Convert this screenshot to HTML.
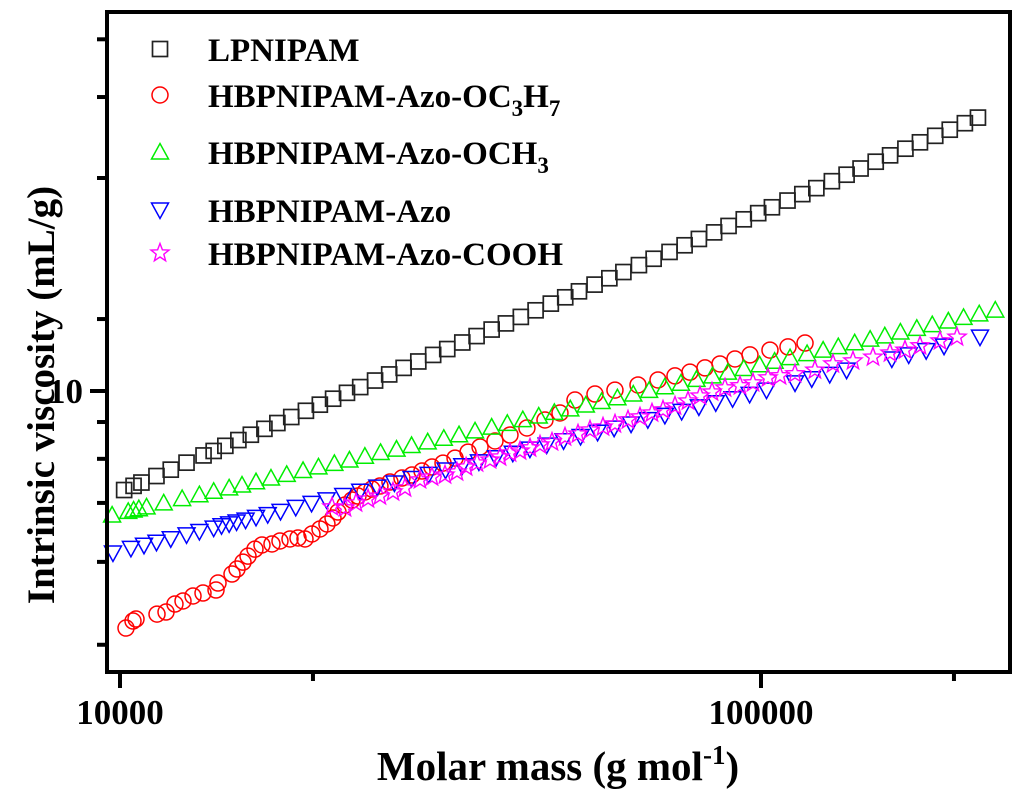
<!DOCTYPE html>
<html><head><meta charset="utf-8"><style>
html,body{margin:0;padding:0;background:#fff;}
svg{display:block;font-family:"Liberation Serif",serif;font-weight:bold;}
</style></head><body>
<svg id="chart" width="1024" height="799" viewBox="0 0 1024 799">
<g id="marks"></g>
<g id="axes"></g>
<g id="legend"></g>
</svg>
<script>
const lpM=[10150,10500,10800,11400,12000,12700,13500,14000,14600,15300,16000,16800,17600,18500,19500,20500,21500,22600,23700,25000,26300,27700,29200,30800,32400,34200,36000,38000,40000,42200,44500,47000,49500,52000,55000,58000,61000,64500,68000,72000,76000,80000,84500,89000,94000,99000,104000,110000,116000,122000,129000,136000,143000,151000,159000,168000,177000,187000,197000,208000,218000];
const lpV=[7.22,7.32,7.40,7.56,7.72,7.90,8.09,8.21,8.35,8.51,8.66,8.83,9.00,9.18,9.37,9.56,9.75,9.94,10.13,10.35,10.56,10.79,11.02,11.26,11.48,11.73,11.98,12.24,12.49,12.76,13.04,13.33,13.61,13.88,14.19,14.49,14.79,15.13,15.45,15.80,16.15,16.49,16.85,17.21,17.59,17.95,18.30,18.71,19.11,19.49,19.94,20.37,20.79,21.26,21.71,22.19,22.66,23.15,23.62,24.13,24.58];
const c3M=[10218,10478,10592,11422,11797,12183,12540,12999,13474,14119,14221,14953,15224,15556,15838,16240,16653,17262,17765,18416,18953,19436,19930,20511,21032,21493,21882,22439,23009,23510,24107,24720,25442,26372,27535,28543,29588,30669,31911,33318,34913,36449,38459,40589,43139,46026,48573,51263,55081,59180,64284,69077,73418,77482,81770,86298,91077,96121,103278,110180,117138];
const c3V=[4.585,4.692,4.723,4.801,4.833,4.962,5.012,5.095,5.145,5.196,5.317,5.477,5.568,5.695,5.809,5.944,6.026,6.046,6.106,6.146,6.166,6.146,6.248,6.352,6.457,6.586,6.716,6.873,6.988,7.079,7.174,7.244,7.316,7.413,7.511,7.586,7.686,7.788,7.889,8.020,8.180,8.318,8.484,8.652,8.855,9.091,9.302,9.708,9.901,10.03,10.20,10.37,10.51,10.64,10.79,10.93,11.11,11.26,11.44,11.56,11.71];
const c1M=[9720,10300,10500,10700,11000,11700,12500,13300,14000,14800,15500,16300,17200,18200,19300,20400,21600,22800,24100,25500,27000,28500,30200,32000,33800,35800,38000,40200,42500,45000,47600,50400,53300,56400,59700,63200,66900,70800,75000,79300,84000,88800,94000,99500,105000,111000,118000,125000,132000,140000,148000,156000,165000,175000,185000,196000,207000,219000,232000];
const c1V=[6.65,6.73,6.76,6.79,6.83,6.92,7.02,7.11,7.19,7.27,7.34,7.42,7.51,7.60,7.70,7.79,7.88,7.97,8.07,8.17,8.26,8.36,8.46,8.56,8.66,8.77,8.88,8.99,9.10,9.21,9.32,9.43,9.55,9.66,9.78,9.90,10.02,10.14,10.26,10.39,10.51,10.64,10.77,10.90,11.03,11.16,11.31,11.44,11.57,11.72,11.86,11.99,12.14,12.29,12.44,12.59,12.74,12.89,13.05];
const azM=[9750,10400,10900,11400,12000,12700,13300,14000,14400,14800,15200,15700,16300,17000,17800,18800,19900,21000,22300,23700,25200,26800,28500,30300,32200,34200,36300,38600,41000,43600,46300,49200,52300,55600,59000,62700,66600,70800,75200,80000,85000,90300,96000,102000,113000,120000,128000,136000,160000,170000,181000,193000,219600];
const azV=[5.87,5.96,6.02,6.08,6.15,6.23,6.30,6.37,6.42,6.46,6.50,6.54,6.60,6.66,6.73,6.82,6.91,6.99,7.09,7.19,7.29,7.39,7.50,7.60,7.71,7.82,7.92,8.03,8.15,8.26,8.37,8.49,8.61,8.73,8.85,8.97,9.10,9.23,9.35,9.49,9.62,9.75,9.89,10.03,10.27,10.41,10.56,10.71,11.11,11.26,11.42,11.59,11.94];
const coM=[21413,22439,23346,24377,25442,26660,27834,29376,30669,32136,33557,34672,36056,37778,39161,40589,42073,43612,45206,47196,49453,51816,54100,56686,59180,62010,64748,67608,70330,73418,76925,80328,83872,87859,92734,97162,102538,107068,112980,121378,129500,139151,149515,158939,167740,177028,190213,202210];
const coV=[6.829,6.807,6.918,7.010,7.079,7.174,7.269,7.463,7.536,7.586,7.661,7.788,7.889,7.968,8.048,8.155,8.209,8.291,8.373,8.454,8.595,8.681,8.795,8.883,8.971,9.091,9.181,9.302,9.395,9.519,9.676,9.837,9.967,10.10,10.17,10.27,10.44,10.51,10.58,10.71,10.93,11.04,11.18,11.33,11.44,11.60,11.79,11.94];
const xMajorTicks=[10000,100000];
const xMajorLabels=["10000","100000"];
const xMinorTicks=[20000,200000];
const yMajorTicks=[10];
const yMajorLabels=["10"];
const yMinorTicks=[4.34,5.70,6.92,8.00,9.03,12.67,20.15,26.3,31.8];

const NS="http://www.w3.org/2000/svg";
function X(m){return 120+641*Math.log10(m/10000);}
function Y(v){return 391-700*Math.log10(v/10);}
function mk(tag,attrs,parent){const e=document.createElementNS(NS,tag);for(const k in attrs)e.setAttribute(k,attrs[k]);parent.appendChild(e);return e;}
const marks=document.getElementById('marks'),axes=document.getElementById('axes'),legend=document.getElementById('legend');

function square(g,x,y,c){return mk('rect',{x:x-7.5,y:y-7.5,width:15,height:15,fill:'none',stroke:c,'stroke-width':1.7},g);}
function circle(g,x,y,c){return mk('circle',{cx:x,cy:y,r:8,fill:'none',stroke:c,'stroke-width':1.5},g);}
function triUp(g,x,y,c){return mk('path',{d:`M${x-8.5},${y+7}L${x+8.5},${y+7}L${x},${y-8.5}Z`,fill:'none',stroke:c,'stroke-width':1.5},g);}
function triDown(g,x,y,c){return mk('path',{d:`M${x-8.5},${y-7}L${x+8.5},${y-7}L${x},${y+8.5}Z`,fill:'none',stroke:c,'stroke-width':1.5},g);}
function star(g,x,y,c){let d='';for(let i=0;i<10;i++){const r=i%2?4:9.5;const a=-Math.PI/2+i*Math.PI/5;d+=(i?'L':'M')+(x+r*Math.cos(a)).toFixed(1)+','+(y+r*Math.sin(a)).toFixed(1);}return mk('path',{d:d+'Z',fill:'none',stroke:c,'stroke-width':1.4},g);}

const series=[
 {name:'series-lpnipam',M:lpM,V:lpV,c:'#222',f:square},
 {name:'series-azo-oc3h7',M:c3M,V:c3V,c:'#ff0000',f:circle},
 {name:'series-azo-och3',M:c1M,V:c1V,c:'#00ee00',f:triUp},
 {name:'series-azo',M:azM,V:azV,c:'#0000ff',f:triDown},
 {name:'series-azo-cooh',M:coM,V:coV,c:'#ff00ff',f:star}
];
series.forEach(s=>{
 const g=mk('g',{},marks);
 
 
 for(let i=0;i<s.M.length;i++){
  const p=s.f(g,X(s.M[i]),Y(s.V[i]),s.c);
  
  
 }
});

const fr=mk('rect',{x:107,y:12,width:903,height:660,fill:'none',stroke:'#000','stroke-width':4},axes);


xMajorTicks.forEach((t,i)=>{
 const l=mk('line',{x1:X(t),x2:X(t),y1:672,y2:688,stroke:'#000','stroke-width':4},axes);
 
 
 const tx=mk('text',{x:X(t),y:724,'text-anchor':'middle','font-size':35},axes);
 tx.textContent=xMajorLabels[i];
 
 
});
xMinorTicks.forEach(t=>{
 const l=mk('line',{x1:X(t),x2:X(t),y1:672,y2:681,stroke:'#000','stroke-width':4},axes);
 
 
});
yMajorTicks.forEach((t,i)=>{
 const l=mk('line',{x1:90,x2:107,y1:Y(t),y2:Y(t),stroke:'#000','stroke-width':4},axes);
 
 
 const tx=mk('text',{x:83,y:Y(t)+12,'text-anchor':'end','font-size':35},axes);
 tx.textContent=yMajorLabels[i];
 
 
});
yMinorTicks.forEach(t=>{
 const l=mk('line',{x1:97,x2:107,y1:Y(t),y2:Y(t),stroke:'#000','stroke-width':4},axes);
 
 
});
</script>
<script>
(function(){
const svg=document.getElementById('chart');
const NS="http://www.w3.org/2000/svg";
const xt=document.createElementNS(NS,'text');
xt.setAttribute('x','558');xt.setAttribute('y','780');xt.setAttribute('text-anchor','middle');xt.setAttribute('font-size','41');
xt.innerHTML='Molar mass (g mol<tspan dy="-16" font-size="27">-1</tspan><tspan dy="16">)</tspan>';


svg.appendChild(xt);
const yt=document.createElementNS(NS,'text');
yt.setAttribute('transform','translate(54,395) rotate(-90)');yt.setAttribute('text-anchor','middle');yt.setAttribute('font-size','39');
yt.textContent='Intrinsic viscosity (mL/g)';


svg.appendChild(yt);
})();
</script>
<script>
(function(){
const legend=document.getElementById('legend');
const NS="http://www.w3.org/2000/svg";
const rows=[
 {y:49,t:'LPNIPAM',f:square,c:'#222'},
 {y:95,t:'HBPNIPAM-Azo-OC<tspan dy="9" font-size="23">3</tspan><tspan dy="-9">H</tspan><tspan dy="9" font-size="23">7</tspan>',f:circle,c:'#ff0000'},
 {y:152,t:'HBPNIPAM-Azo-OCH<tspan dy="9" font-size="23">3</tspan>',f:triUp,c:'#00ee00'},
 {y:210,t:'HBPNIPAM-Azo',f:triDown,c:'#0000ff'},
 {y:253,t:'HBPNIPAM-Azo-COOH',f:star,c:'#ff00ff'}
];
rows.forEach(r=>{
 const g=document.createElementNS(NS,'g');
 
 
 legend.appendChild(g);
 r.f(g,160,r.y,r.c);
 const t=document.createElementNS(NS,'text');
 t.setAttribute('x','208');t.setAttribute('y',String(r.y+12));t.setAttribute('font-size','33');
 t.innerHTML=r.t;
 
 
 g.appendChild(t);
});
})();
</script>
</body></html>
